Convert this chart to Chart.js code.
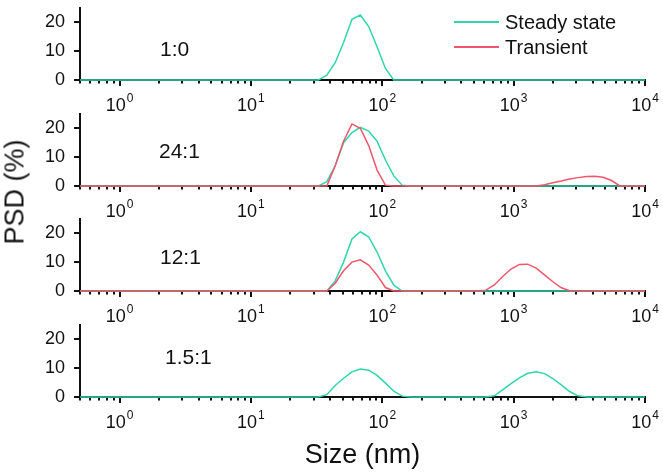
<!DOCTYPE html>
<html>
<head>
<meta charset="utf-8">
<script src="https://cdn.jsdelivr.net/npm/chart.js@4.4.1/dist/chart.umd.min.js"></script>
<style>
  html, body { margin: 0; padding: 0; background: #fff; }
  #wrap { position: relative; width: 663px; height: 474px; overflow: hidden; background: #fff;
          font-family: "Liberation Sans", Arial, sans-serif; color: #111; }
  canvas.panel { position: absolute; left: 0; }
  #ytitle { position: absolute; left: 15px; top: 191.5px; transform: translate(-50%, -50%) rotate(-90deg);
            font-size: 27px; white-space: nowrap; line-height: 1; }
  .legline { position: absolute; left: 454px; width: 45px; height: 1.5px; }
  .legtext { position: absolute; left: 505px; font-size: 20px; line-height: 20px; white-space: nowrap; }
</style>
</head>
<body>
<div id="wrap">
  <canvas class="panel" id="c1" width="663" height="132" style="top:-12px"></canvas>
  <canvas class="panel" id="c2" width="663" height="132" style="top:94px"></canvas>
  <canvas class="panel" id="c3" width="663" height="132" style="top:199px"></canvas>
  <canvas class="panel" id="c4" width="663" height="170" style="top:305px"></canvas>
  <div id="ytitle">PSD (%)</div>
  <div class="legline" style="top:21px;background:#2fd6a8"></div>
  <div class="legtext" style="top:12px">Steady state</div>
  <div class="legline" style="top:46px;background:#f0566b"></div>
  <div class="legtext" style="top:37px">Transient</div>
</div>
<script>
// ---- Data (size bins in nm, PSD in %) ----
const sizes = [0.4, 0.4632, 0.5365, 0.6213, 0.7195, 0.8332, 0.9649, 1.117, 1.294, 1.499,
  1.736, 2.01, 2.328, 2.696, 3.122, 3.615, 4.187, 4.849, 5.615, 6.503,
  7.531, 8.721, 10.1, 11.7, 13.54, 15.69, 18.17, 21.04, 24.36, 28.21,
  32.67, 37.84, 43.82, 50.75, 58.77, 68.06, 78.82, 91.28, 105.7, 122.4,
  141.8, 164.2, 190.1, 220.2, 255.0, 295.3, 342.0, 396.1, 458.7, 531.2,
  615.1, 712.4, 825.0, 955.4, 1106, 1281, 1484, 1718, 1990, 2305,
  2669, 3091, 3580, 4145, 4801, 5560, 6439, 7456, 8635, 10000];

// Panel 1:0
const steady_1_0 = [0,0,0,0,0,0,0,0,0,0, 0,0,0,0,0,0,0,0,0,0, 0,0,0,0,0,0,0,0,0,0,
  0,1.7,6,13,21,22.5,18.5,11.5,4,0, 0,0,0,0,0,0,0,0,0,0,
  0,0,0,0,0,0,0,0,0,0, 0,0,0,0,0,0,0,0,0,0];
// Panel 24:1
const steady_24_1 = [0,0,0,0,0,0,0,0,0,0, 0,0,0,0,0,0,0,0,0,0, 0,0,0,0,0,0,0,0,0,0,
  0,1.5,7,15,18.5,20.3,19,15.5,9,3.5, 0.3,0,0,0,0,0,0,0,0,0,
  0,0,0,0,0,0,0,0,0,0, 0,0,0,0,0,0,0,0,0,0];
const transient_24_1 = [0,0,0,0,0,0,0,0,0,0, 0,0,0,0,0,0,0,0,0,0, 0,0,0,0,0,0,0,0,0,0,
  0,0,7,15.5,21.5,20,14,5.5,0.3,0, 0,0,0,0,0,0,0,0,0,0,
  0,0,0,0,0,0,0,0.4,1.1,1.7, 2.4,2.9,3.3,3.4,3.0,1.9,0,0,0,0];
// Panel 12:1
const steady_12_1 = [0,0,0,0,0,0,0,0,0,0, 0,0,0,0,0,0,0,0,0,0, 0,0,0,0,0,0,0,0,0,0,
  0,0,3.5,10,18,20.5,18.7,13.5,7,2, 0,0,0,0,0,0,0,0,0,0,
  0,0,0,0,0,0,0,0,0,0, 0,0,0,0,0,0,0,0,0,0];
const transient_12_1 = [0,0,0,0,0,0,0,0,0,0, 0,0,0,0,0,0,0,0,0,0, 0,0,0,0,0,0,0,0,0,0,
  0,0,2.7,7,10,10.8,9,5.5,1.2,0, 0,0,0,0,0,0,0,0,0,0,
  0.3,2.1,5,7.6,9.2,9.3,7.9,5.6,3.2,1.1, 0.1,0,0,0,0,0,0,0,0,0];
// Panel 1.5:1
const steady_1_5_1 = [0,0,0,0,0,0,0,0,0,0, 0,0,0,0,0,0,0,0,0,0, 0,0,0,0,0,0,0,0,0,0,
  0,0.8,4,6.5,8.7,9.7,9.3,7.5,4.8,2, 0.3,0,0,0,0,0,0,0,0,0,
  0,0.4,2.5,4.6,6.6,8.2,8.7,8.1,6.4,4.2, 1.9,0.4,0,0,0,0,0,0,0,0];

const panelLabels = ['1:0', '24:1', '12:1', '1.5:1'];
const seriesNames = ['Steady state', 'Transient'];

// ---- Ticks ----
const xTickValues = [0.5,0.6,0.7,0.8,0.9, 1,2,3,4,5,6,7,8,9, 10,20,30,40,50,60,70,80,90,
  100,200,300,400,500,600,700,800,900, 1000,2000,3000,4000,5000,6000,7000,8000,9000, 10000];
const xMajorTicks = [1, 10, 100, 1000, 10000];
const xMajorBase = '10';
const xMajorExponents = ['0', '1', '2', '3', '4'];
const yTickValues = [0, 5, 10, 15, 20, 25];
const yLabelValues = [0, 10, 20];

// ---- Styles ----
const FONT = '"Liberation Sans", Arial, sans-serif';
const GREEN = '#2fd6a8';
const RED = '#f0566b';
const INK = '#111';

// tick marks (long major / short minor) and power-of-ten tick labels
const tickMarks = {
  id: 'tickMarks',
  beforeDatasetsDraw(chart) {
    const {ctx, chartArea: a, scales: {x, y}} = chart;
    ctx.save();
    ctx.strokeStyle = INK;
    ctx.lineWidth = 2;
    ctx.beginPath();
    x.ticks.forEach(t => {
      const px = Math.round(x.getPixelForValue(t.value));
      const len = xMajorTicks.includes(t.value) ? 6 : 3.5;
      ctx.moveTo(px, a.bottom); ctx.lineTo(px, a.bottom + len);
    });
    y.ticks.forEach(t => {
      const py = Math.round(y.getPixelForValue(t.value));
      const len = yLabelValues.includes(t.value) ? 6 : 3.5;
      ctx.moveTo(a.left, py); ctx.lineTo(a.left - len, py);
    });
    ctx.stroke();
    // x tick labels: 10 with superscript exponent
    ctx.fillStyle = INK;
    ctx.textBaseline = 'alphabetic';
    ctx.textAlign = 'left';
    xMajorTicks.forEach((v, k) => {
      const px = x.getPixelForValue(v);
      ctx.font = '18px ' + FONT;
      const wb = ctx.measureText(xMajorBase).width;
      ctx.font = '12px ' + FONT;
      const we = ctx.measureText(xMajorExponents[k]).width;
      const left = px - (wb + 1 + we) / 2;
      ctx.font = '18px ' + FONT;
      ctx.fillText(xMajorBase, left, a.bottom + 31);
      ctx.font = '12px ' + FONT;
      ctx.fillText(xMajorExponents[k], left + wb + 1, a.bottom + 22);
    });
    ctx.restore();
  }
};

const panelLabel = {
  id: 'panelLabel',
  afterDraw(chart, args, opts) {
    const ctx = chart.ctx;
    ctx.save();
    ctx.font = '21px ' + FONT;
    ctx.fillStyle = INK;
    ctx.textAlign = 'left';
    ctx.textBaseline = 'middle';
    ctx.fillText(opts.text, opts.x, opts.y);
    ctx.restore();
  }
};

function pts(vals) { return sizes.map((s, i) => ({x: s, y: vals[i]})); }

function makePanel(id, series, labelText, labelPos, isLast) {
  const canvas = document.getElementById(id);
  const H = canvas.height;
  const hx = H - 92;
  const datasets = series.map(s => ({
    label: s.name,
    data: pts(s.values),
    borderColor: s.color,
    borderWidth: 1.5,
    pointRadius: 0,
    tension: 0,
    fill: false,
    order: s.order,
    clip: {left: 0, top: 4, right: 0, bottom: 4}
  }));
  return new Chart(canvas, {
    type: 'line',
    data: { datasets },
    options: {
      responsive: false,
      animation: false,
      devicePixelRatio: 1,
      layout: { padding: { left: 0, right: 18, top: 13.5, bottom: 0 } },
      plugins: {
        legend: { display: false },
        tooltip: { enabled: false },
        panelLabel: { text: labelText, x: labelPos[0], y: labelPos[1] }
      },
      scales: {
        x: {
          type: 'logarithmic', min: 0.5, max: 10000, position: 'bottom',
          afterBuildTicks: s => { s.ticks = xTickValues.map(v => ({ value: v, major: xMajorTicks.includes(v) })); },
          afterFit: s => { s.height = hx; },
          grid: { drawOnChartArea: false, drawTicks: true, tickLength: 6, tickColor: 'rgba(0,0,0,0)' },
          border: { display: true, color: INK, width: 2 },
          ticks: {
            autoSkip: false, maxRotation: 0, minRotation: 0, padding: 3, color: INK,
            font: { family: FONT, size: 18 },
            callback: () => ''
          },
          title: isLast ? { display: true, text: 'Size (nm)', color: INK, font: { family: FONT, size: 27 }, padding: { top: 0, bottom: 3 } } : { display: false }
        },
        y: {
          min: 0, max: 25,
          afterBuildTicks: s => { s.ticks = yTickValues.map(v => ({ value: v })); },
          afterFit: s => { s.width = 80; },
          grid: { drawOnChartArea: false, drawTicks: true, tickLength: 6, tickColor: 'rgba(0,0,0,0)' },
          border: { display: true, color: INK, width: 2 },
          ticks: {
            padding: 9, color: INK, font: { family: FONT, size: 18 },
            callback: v => yLabelValues.includes(v) ? String(v) : ''
          }
        }
      }
    },
    plugins: [tickMarks, panelLabel]
  });
}

makePanel('c1', [{ name: seriesNames[0], values: steady_1_0, color: GREEN, order: 1 }], panelLabels[0], [160, 62.5], false);
makePanel('c2', [{ name: seriesNames[0], values: steady_24_1, color: GREEN, order: 1 },
                 { name: seriesNames[1], values: transient_24_1, color: RED, order: 0 }], panelLabels[1], [159, 58.5], false);
makePanel('c3', [{ name: seriesNames[0], values: steady_12_1, color: GREEN, order: 1 },
                 { name: seriesNames[1], values: transient_12_1, color: RED, order: 0 }], panelLabels[2], [160, 59], false);
makePanel('c4', [{ name: seriesNames[0], values: steady_1_5_1, color: GREEN, order: 1 }], panelLabels[3], [165, 53], true);
</script>
</body>
</html>
